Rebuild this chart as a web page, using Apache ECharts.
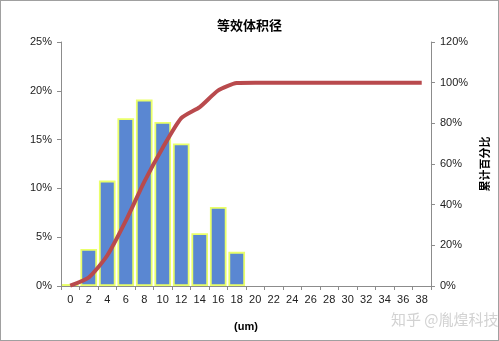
<!DOCTYPE html>
<html><head><meta charset="utf-8">
<script src="https://cdn.jsdelivr.net/npm/echarts@6/dist/echarts.min.js"></script>
<style>html,body{margin:0;padding:0;background:#fff}#c{width:499px;height:341px;box-sizing:border-box;border:1px solid #a0a0a0}</style>
</head><body><div id="c"></div>
<script>
const categories = ['0','2','4','6','8','10','12','14','16','18','20','22','24','26','28','30','32','34','36','38'];
const frequency = [0.2, 3.8, 10.8, 17.2, 19.1, 16.8, 14.6, 5.4, 8.1, 3.5, 0, 0, 0, 0, 0, 0, 0, 0, 0, 0];
const cumulative = [0.2, 4.2, 15.0, 32.0, 51.2, 68.0, 82.6, 88.0, 96.2, 99.8, 100, 100, 100, 100, 100, 100, 100, 100, 100, 100];
const leftTicks = {min: 0, max: 25, interval: 5};
const rightTicks = {min: 0, max: 120, interval: 20};

const latin = 'Liberation Sans, Noto Sans CJK SC, sans-serif';
const cjk = 'Noto Sans CJK SC, sans-serif';
const chart = echarts.init(document.getElementById('c'));
chart.setOption({
  animation: false,
  title: {text: '等效体积径', left: 'center', top: 13, textStyle: {fontFamily: cjk, fontSize: 13, fontWeight: 'bold', color: '#000'}},
  grid: {left: 60, right: 63, top: 41, bottom: 54},
  xAxis: {
    type: 'category', data: categories,
    name: '(um)', nameLocation: 'middle', nameGap: 35,
    nameTextStyle: {fontFamily: latin, fontSize: 11, fontWeight: 'bold', color: '#000'},
    axisLine: {lineStyle: {color: '#8c8c8c', width: 1}},
    axisTick: {show: true, length: 4, lineStyle: {color: '#8c8c8c'}},
    axisLabel: {fontFamily: latin, fontSize: 11, color: '#222', margin: 8, interval: 0}
  },
  yAxis: [{
    type: 'value', min: leftTicks.min, max: leftTicks.max, interval: leftTicks.interval,
    axisLine: {show: true, lineStyle: {color: '#8c8c8c'}},
    axisTick: {show: true, length: 4, lineStyle: {color: '#8c8c8c'}},
    axisLabel: {fontFamily: latin, fontSize: 11, color: '#222', margin: 9, formatter: v => v + '%'},
    splitLine: {show: false}
  }, {
    type: 'value', min: rightTicks.min, max: rightTicks.max, interval: rightTicks.interval,
    name: '累计百分比', nameLocation: 'middle', nameGap: 46, nameRotate: 90,
    nameTextStyle: {fontFamily: cjk, fontSize: 11, fontWeight: 'bold', color: '#000'},
    axisLine: {show: true, lineStyle: {color: '#8c8c8c'}},
    axisTick: {show: true, length: 4, lineStyle: {color: '#8c8c8c'}},
    axisLabel: {fontFamily: latin, fontSize: 11, color: '#222', margin: 9, formatter: v => v + '%'},
    splitLine: {show: false}
  }],
  series: [{
    type: 'bar', data: frequency.map(v => v === 0 ? '-' : v), yAxisIndex: 0, barCategoryGap: '10%',
    itemStyle: {color: '#5a87d2', borderColor: '#eaff6a', borderWidth: 1.8}
  }, {
    type: 'line', data: cumulative, yAxisIndex: 1, showSymbol: false, smooth: 0.2,
    lineStyle: {color: '#b94a4d', width: 4}, itemStyle: {color: '#b94a4d'}
  }],
  graphic: [{
    type: 'text', left: 390, top: 311,
    style: {text: '知乎 @胤煌科技', fontFamily: cjk, fontSize: 15, fill: '#d2d2d2'}
  }]
});
</script></body></html>
